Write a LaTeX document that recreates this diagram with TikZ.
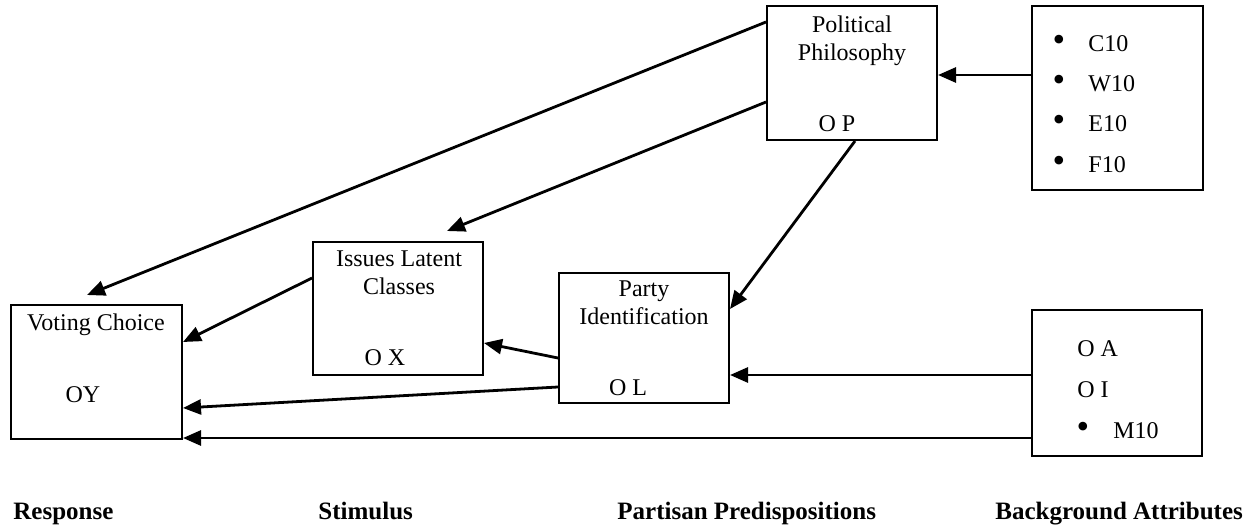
\documentclass[tikz,border=0pt]{standalone}
\usepackage{fontspec}
\setmainfont{Liberation Serif}
\usetikzlibrary{arrows.meta,calc}
\begin{document}
\begin{tikzpicture}[x=0.5pt,y=-0.5pt,
  box/.style={draw,line width=1pt,inner sep=0pt,minimum width=#1},
  arr/.style={line width=1.4pt,-{Triangle[length=9pt,width=7.5pt]}},
  txt/.style={inner sep=0pt,anchor=base,font=\fontsize{12}{14}\selectfont},
  bul/.style={inner sep=0pt,anchor=base,font=\fontsize{18}{20}\selectfont},
  ltxt/.style={inner sep=0pt,anchor=base west,font=\fontsize{12}{14}\selectfont},
  btxt/.style={inner sep=0pt,anchor=base west,font=\fontsize{12.5}{15}\selectfont\bfseries}]
\useasboundingbox (0,0) rectangle (1254,529);
% boxes
\node[box=85pt,minimum height=67pt] (pp) at (852,73) {};
\node[box=85.5pt,minimum height=92pt] (bg1) at (1117.5,98) {};
\node[box=85.5pt,minimum height=67pt] (vc) at (96.5,372) {};
\node[box=85pt,minimum height=66.5pt] (iss) at (398,308.5) {};
\node[box=85pt,minimum height=65pt] (party) at (644,338) {};
\node[box=85pt,minimum height=73pt] (bg2) at (1117,383) {};
% texts
\node[txt] (pp1) at (852,33) {Political};
\node[txt] (pp2) at (852,61) {Philosophy};
\node[txt] (pp3) at (837,132) {O P};
\node[bul] (b1) at (1059,52) {\textbullet};
\node[bul] (b2) at (1059,92) {\textbullet};
\node[bul] (b3) at (1059,132) {\textbullet};
\node[bul] (b4) at (1059,173) {\textbullet};
\node[ltxt] (c10) at (1088,52) {C10};
\node[ltxt] (w10) at (1088,92) {W10};
\node[ltxt] (e10) at (1088,132) {E10};
\node[ltxt] (f10) at (1088,173) {F10};
\node[txt] (vc1) at (96,331) {Voting Choice};
\node[txt] (vc2) at (83,402) {OY};
\node[txt] (is1) at (399,267) {Issues Latent};
\node[txt] (is2) at (399,295) {Classes};
\node[txt] (is3) at (385,366) {O X};
\node[txt] (pa1) at (644,297) {Party};
\node[txt] (pa2) at (644,325) {Identification};
\node[txt] (pa3) at (628,396) {O L};
\node[ltxt] (oa) at (1077,357) {O A};
\node[ltxt] (oi) at (1077,398) {O I};
\node[bul] (b5) at (1083,438) {\textbullet};
\node[ltxt] (m10) at (1113,438) {M10};
% bottom labels
\node[btxt] (l1) at (13,519) {Response};
\node[btxt] (l2) at (318,519) {Stimulus};
\node[btxt] (l3) at (617,519) {Partisan Predispositions};
\node[btxt] (l4) at (995,519) {Background Attributes};
% free ends
\coordinate (vctop) at (87,295);
\coordinate (istop) at (447,231);
% connectors
\draw[arr] (bg1.west |- 0,75) -- (pp.east |- 0,75);
\draw[arr] ($(pp.north west)+(0,17)$) -- (vctop);
\draw[arr] ($(pp.north west)+(0,97)$) -- (istop);
\draw[arr] ($(pp.south)+(3,0)$) -- ($(party.north east)+(0,37)$);
\draw[arr] (bg2.west |- 0,375) -- (party.east |- 0,375);
\draw[arr] (bg2.west |- 0,438) -- (vc.east |- 0,438);
\draw[arr] (party.west |- 0,358) -- (iss.east |- 0,343);
\draw[arr] (party.west |- 0,387) -- (vc.east |- 0,408);
\draw[arr] (iss.west |- 0,278) -- (vc.east |- 0,342);
\end{tikzpicture}
\end{document}
